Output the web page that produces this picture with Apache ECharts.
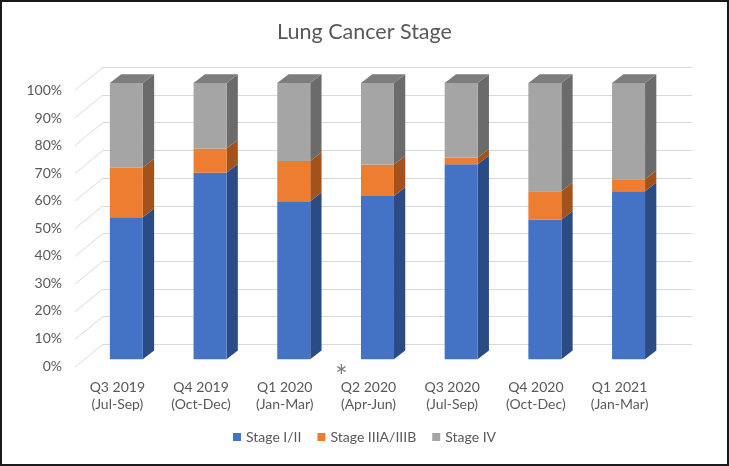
<!DOCTYPE html>
<html><head><meta charset="utf-8">
<script src="https://cdn.jsdelivr.net/npm/echarts@6/dist/echarts.min.js"></script>
<style>html,body{margin:0;padding:0;background:#fff}#c{width:729px;height:466px}</style>
</head><body><div id="c"></div>
<script>
const categories = ['Q3 2019\n(Jul-Sep)','Q4 2019\n(Oct-Dec)','Q1 2020\n(Jan-Mar)','Q2 2020\n(Apr-Jun)','Q3 2020\n(Jul-Sep)','Q4 2020\n(Oct-Dec)','Q1 2021\n(Jan-Mar)'];
const stage12 = [51.4, 67.5, 57.2, 59.1, 70.6, 50.5, 60.8];
const stage3 = [18.0, 8.8, 14.6, 11.4, 2.4, 10.3, 4.4];
const stage4 = [30.6, 23.7, 28.2, 29.5, 27.0, 39.2, 34.8];
const seriesNames = ['Stage I/II','Stage IIIA/IIIB','Stage IV'];
const tickValues = [0,10,20,30,40,50,60,70,80,90,100];

const FONT = 'Lato';
const TXT = '#595959';
const colors = [
  {front:'#4472c4', side:'#2b4b84', top:'#3a62a8'},
  {front:'#ed7d31', side:'#a3521b', top:'#c9692a'},
  {front:'#a5a5a5', side:'#6b6b6b', top:'#7d7d7d'}
];
const allVals = [stage12, stage3, stage4];
const stacked = allVals.map((arr, s) => arr.map((v, i) => {
  let base = 0;
  for (let k = 0; k < s; k++) base += allVals[k][i];
  return [i, base, base + v];
}));

function barRender(sIdx) {
  return function (params, api) {
    const i = api.value(0), b = api.value(1), t = api.value(2);
    const p0 = api.coord([i, b]);
    const p1 = api.coord([i, t]);
    const band = api.size([1, 0])[0];
    const bw = band * 0.394;
    const dx = band * 0.135, dy = -band * 0.104;
    const x0 = p0[0] - bw / 2, x1 = p0[0] + bw / 2;
    const c = colors[sIdx];
    const children = [
      {type:'polygon', shape:{points:[[x1,p0[1]],[x1+dx,p0[1]+dy],[x1+dx,p1[1]+dy],[x1,p1[1]]]}, style:{fill:c.side}},
      {type:'rect', shape:{x:x0, y:p1[1], width:bw, height:p0[1]-p1[1]}, style:{fill:c.front}}
    ];
    if (sIdx === 2) {
      children.push({type:'polygon', shape:{points:[[x0,p1[1]],[x1,p1[1]],[x1+dx,p1[1]+dy],[x0+dx,p1[1]+dy]]}, style:{fill:c.top}});
    }
    return {type:'group', children};
  };
}

const chart = echarts.init(document.getElementById('c'));
const series = seriesNames.map((name, s) => ({
  name, type:'custom', xAxisIndex:0, yAxisIndex:0,
  itemStyle:{color:colors[s].front},
  renderItem: barRender(s),
  data: stacked[s], z: 3 + s, silent:true
}));
// left wall diagonal lines
series.push({
  type:'custom', xAxisIndex:1, yAxisIndex:1, silent:true, z:1,
  renderItem: function (params, api) {
    const p = api.coord([0, api.value(0)]);
    return {type:'line', shape:{x1:p[0], y1:p[1], x2:p[0]-28, y2:p[1]+22.8}, style:{stroke:'#d9d9d9', lineWidth:1}};
  },
  data: tickValues.map(v => [v])
});

chart.setOption({
  animation:false,
  textStyle:{fontFamily:FONT},
  title:{text:'Lung Cancer Stage', left:'center', top:16, textStyle:{fontFamily:FONT, fontSize:21.5, fontWeight:'normal', color:TXT}},
  legend:{data:seriesNames, bottom:17, left:'center', icon:'rect', itemWidth:8, itemHeight:8, itemGap:16,
    textStyle:{fontFamily:FONT, fontSize:14, color:TXT}},
  grid:[
    {left:84.5, right:58.6, top:83, bottom:106.7},
    {left:103, right:37, top:67.3, bottom:121.7},
    {left:75.5, right:67.6, top:83, bottom:106.7},
    {left:75, right:37, top:90.7, bottom:100}
  ],
  xAxis:[
    {type:'category', gridIndex:0, data:categories, show:false},
    {type:'value', gridIndex:1, min:0, max:1, show:false},
    {type:'category', gridIndex:2, data:categories, axisLine:{show:false}, axisTick:{show:false},
      axisLabel:{color:TXT, fontSize:14, fontFamily:FONT, lineHeight:17.6, margin:19, interval:0}},
    {type:'value', gridIndex:3, min:0, max:1, show:false}
  ],
  yAxis:[
    {type:'value', gridIndex:0, min:0, max:100, show:false},
    {type:'value', gridIndex:1, min:0, max:100, interval:10, axisLine:{show:false}, axisTick:{show:false}, axisLabel:{show:false},
      splitLine:{lineStyle:{color:'#d9d9d9', width:1}}},
    {type:'value', gridIndex:2, min:0, max:100, show:false},
    {type:'value', gridIndex:3, min:0, max:100, interval:10, axisLine:{show:false}, axisTick:{show:false}, splitLine:{show:false},
      axisLabel:{formatter:'{value}%', color:TXT, fontSize:14, fontFamily:FONT, margin:13}}
  ],
  graphic:[
    {type:'rect', shape:{x:1, y:1, width:727, height:464}, style:{fill:null, stroke:'#1a1a1a', lineWidth:2}, z:100},
    {type:'text', left:335, top:362, style:{text:'*', fontSize:30, fontFamily:FONT, fill:'#7f7f7f'}}
  ],
  series
});
</script></body></html>
